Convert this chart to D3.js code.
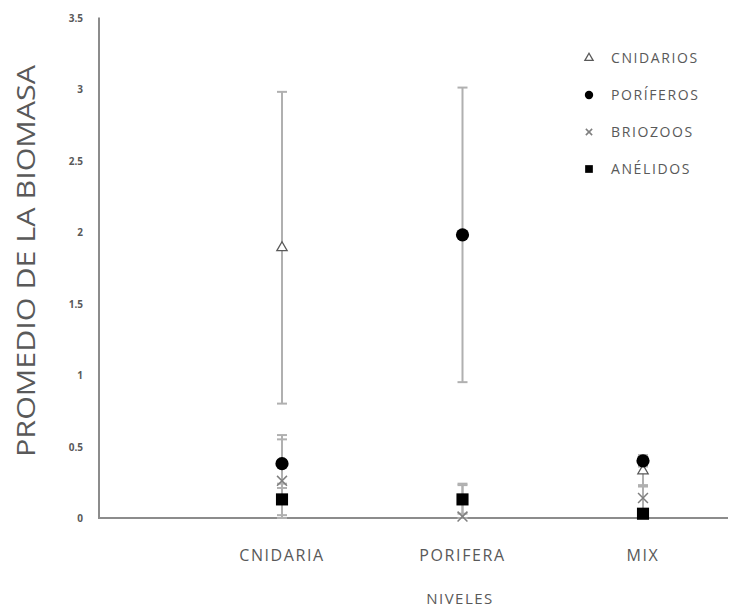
<!DOCTYPE html>
<html>
<head>
<meta charset="utf-8">
<script src="https://cdn.jsdelivr.net/npm/d3@7"></script>
<style>
  body { margin: 0; background: #fff; }
  svg { display: block; }
  text { font-family: "Open Sans", "DejaVu Sans", sans-serif; fill: #595959; }
</style>
</head>
<body>
<svg id="chart" width="732" height="607"></svg>
<script>
// Biomass means per level, with error (± value) for each group
const categories = ["CNIDARIA", "PORIFERA", "MIX"];
const seriesNames = ["CNIDARIOS", "PORÍFEROS", "BRIOZOOS", "ANÉLIDOS"];
const cnidariosMean = [1.89, 0.0, 0.33];
const cnidariosErr  = [1.09, 0.0, 0.10];
const poriferosMean = [0.38, 1.98, 0.40];
const poriferosErr  = [0.17, 1.03, 0.04];
const briozoosMean  = [0.26, 0.01, 0.14];
const briozoosErr   = [0.32, 0.23, 0.08];
const anelidosMean  = [0.13, 0.13, 0.03];
const anelidosErr   = [0.11, 0.10, 0.02];
const yTicks = [0, 0.5, 1, 1.5, 2, 2.5, 3, 3.5];

const series = [
  { name: seriesNames[0], mean: cnidariosMean, err: cnidariosErr, shape: "triangle" },
  { name: seriesNames[1], mean: poriferosMean, err: poriferosErr, shape: "circle" },
  { name: seriesNames[2], mean: briozoosMean,  err: briozoosErr,  shape: "cross" },
  { name: seriesNames[3], mean: anelidosMean,  err: anelidosErr,  shape: "square" }
];

const svg = d3.select("#chart");
const x = d3.scalePoint().domain(categories).range([282, 643]);
const y = d3.scaleLinear().domain([0, 3.5]).range([518, 17.5]);
const axisColor = "#8c8c8c";

// Y axis: line plus bold small numeric labels
svg.append("line")
  .attr("x1", 99).attr("x2", 99)
  .attr("y1", y(3.5)).attr("y2", y(0))
  .attr("stroke", axisColor).attr("stroke-width", 2);
svg.append("g").selectAll("text").data(yTicks).join("text")
  .attr("x", 83).attr("y", d => y(d) + 4)
  .attr("text-anchor", "end")
  .attr("font-size", 10).attr("font-weight", "bold")
  .text(d => d);

// X axis line and category labels
svg.append("line")
  .attr("x1", 98).attr("x2", 728)
  .attr("y1", y(0)).attr("y2", y(0))
  .attr("stroke", axisColor).attr("stroke-width", 2);
svg.append("g").selectAll("text").data(categories).join("text")
  .attr("x", d => x(d)).attr("y", 561)
  .attr("text-anchor", "middle")
  .attr("font-size", 16).attr("letter-spacing", 1.6)
  .text(d => d);

// Axis titles
svg.append("text")
  .attr("x", 460).attr("y", 604)
  .attr("text-anchor", "middle")
  .attr("font-size", 15).attr("letter-spacing", 1.5)
  .text("NIVELES");
svg.append("text")
  .attr("transform", `translate(35, 261) rotate(-90)`)
  .attr("text-anchor", "middle")
  .attr("font-size", 26)
  .attr("textLength", 392).attr("lengthAdjust", "spacingAndGlyphs")
  .text("PROMEDIO DE LA BIOMASA");

// Marker drawing helper
function drawMarker(g, shape, size) {
  if (shape === "triangle") {
    g.append("path").attr("d", d3.symbol(d3.symbolTriangle, size * 4.2)())
      .attr("fill", "#fff").attr("stroke", "#595959").attr("stroke-width", 1.3);
  } else if (shape === "circle") {
    g.append("circle").attr("r", size * 0.6).attr("fill", "#000");
  } else if (shape === "cross") {
    const s = size * 0.45;
    g.append("path").attr("d", `M${-s},${-s}L${s},${s}M${-s},${s}L${s},${-s}`)
      .attr("stroke", "#7f7f7f").attr("stroke-width", 1.5).attr("fill", "none");
  } else {
    const s = size * 0.55;
    g.append("rect").attr("x", -s).attr("y", -s).attr("width", 2 * s).attr("height", 2 * s)
      .attr("fill", "#000");
  }
}

// Error bars first, then markers above them
const pts = [];
series.forEach(s => categories.forEach((c, i) => {
  pts.push({ s, c, m: s.mean[i], e: s.err[i] });
}));

const eb = svg.append("g").attr("stroke", "#b0b0b0").attr("stroke-width", 2);
pts.filter(p => p.e > 0).forEach(p => {
  const cx = x(p.c);
  const lo = Math.max(0, p.m - p.e), hi = p.m + p.e;
  eb.append("line").attr("x1", cx).attr("x2", cx).attr("y1", y(hi)).attr("y2", y(lo));
  eb.append("line").attr("x1", cx - 5).attr("x2", cx + 5).attr("y1", y(hi)).attr("y2", y(hi));
  eb.append("line").attr("x1", cx - 5).attr("x2", cx + 5).attr("y1", y(lo)).attr("y2", y(lo));
});

const marks = svg.append("g");
pts.filter(p => p.m > 0 || p.s.shape === "cross").forEach(p => {
  const g = marks.append("g").attr("transform", `translate(${x(p.c)},${y(p.m)})`);
  drawMarker(g, p.s.shape, 11);
});

// Legend
const legend = svg.append("g");
series.forEach((s, i) => {
  const ly = 58 + i * 37;
  const g = legend.append("g").attr("transform", `translate(589,${ly})`);
  drawMarker(g, s.shape, 7);
  legend.append("text").attr("x", 611).attr("y", ly + 5)
    .attr("font-size", 14).attr("letter-spacing", 1.6).text(s.name);
});
</script>
</body>
</html>
